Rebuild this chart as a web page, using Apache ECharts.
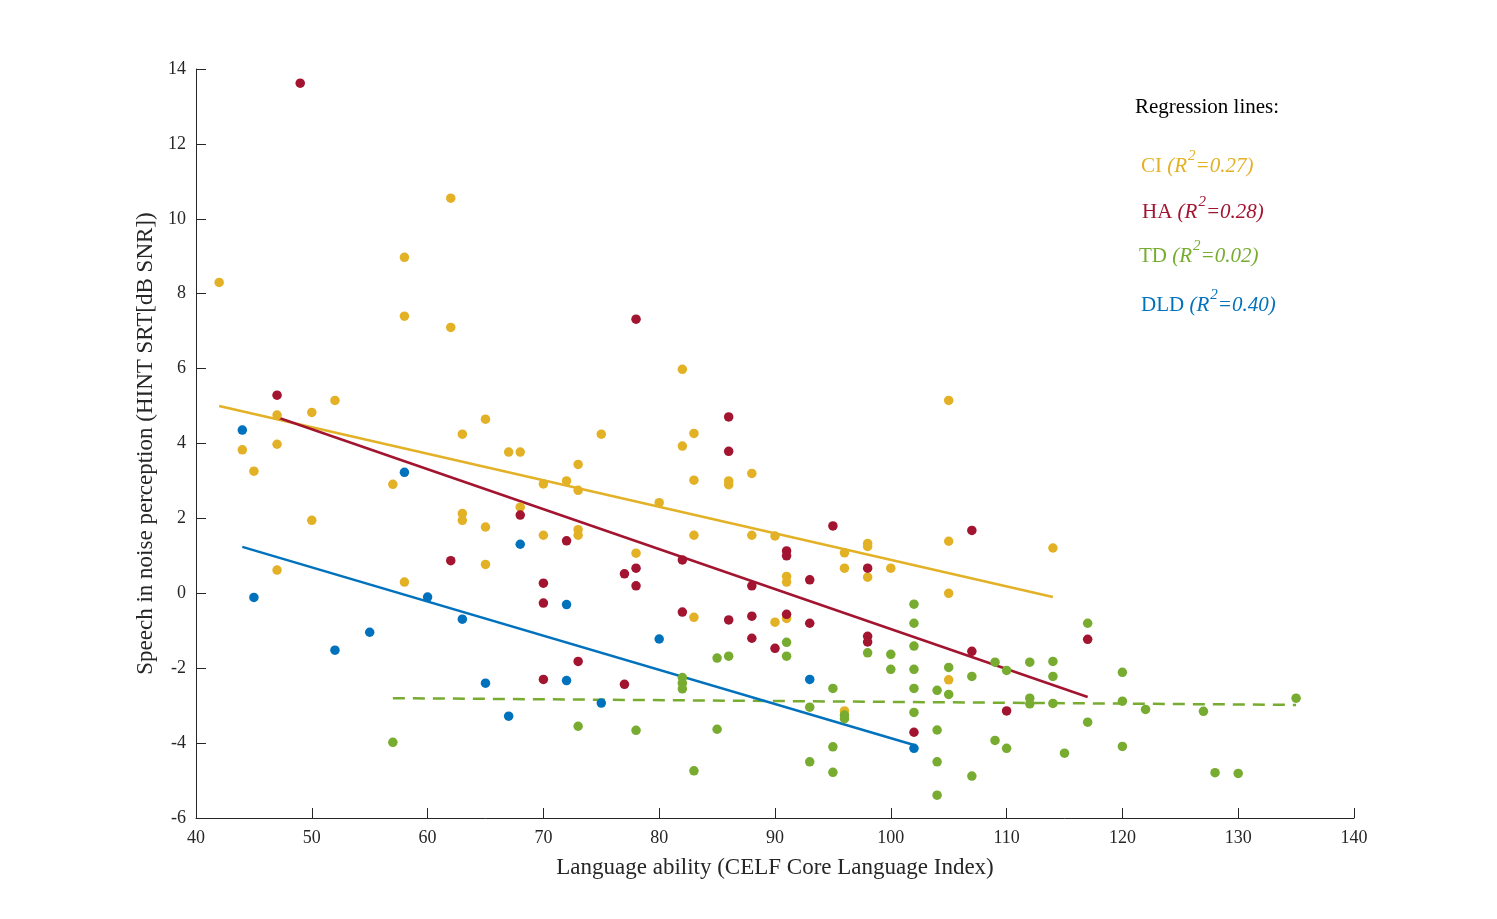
<!DOCTYPE html>
<html>
<head>
<meta charset="utf-8">
<script src="https://cdn.jsdelivr.net/npm/echarts@6/dist/echarts.min.js"></script>
<style>
html,body{margin:0;padding:0;background:#fff;}
#chart{width:1497px;height:919px;}
</style>
</head>
<body>
<div id="chart"></div>
<script>
// ---- Data ----
var ciPoints = [
  [42,8.3],[44,3.83],[45,3.26],[47,4.76],[47,3.98],[47,0.62],[50,4.83],[50,1.95],[52,5.15],
  [57,2.91],[58,8.97],[58,7.4],[58,0.3],[62,10.55],[62,7.1],[63,4.25],[63,2.13],[63,1.95],
  [65,4.65],[65,1.77],[65,0.77],[67,3.77],[68,3.77],[68,2.3],[70,2.92],[70,1.55],[72,3.0],
  [73,3.44],[73,2.75],[73,1.7],[73,1.55],[75,4.25],[78,1.07],[80,2.42],[82,5.98],[82,3.93],
  [83,4.27],[83,3.02],[83,1.55],[83,-0.64],[86,3.0],[86,2.9],[88,3.2],[88,1.55],[90,1.53],
  [90,-0.77],[91,0.45],[91,0.3],[91,-0.67],[96,1.08],[96,0.67],[96,-3.14],[98,1.33],[98,1.25],
  [98,0.43],[100,0.67],[105,5.15],[105,1.39],[105,0.0],[105,-2.31],[114,1.21]
];
var haPoints = [
  [47,5.29],[49,13.62],[62,0.87],[68,2.09],[70,0.27],[70,-0.26],[70,-2.3],[72,1.4],[73,-1.82],
  [77,0.52],[77,-2.43],[78,7.32],[78,0.67],[78,0.2],[82,0.89],[82,-0.5],[86,4.71],[86,3.79],
  [86,-0.71],[88,0.2],[88,-0.61],[88,-1.2],[90,-1.47],[91,1.13],[91,1.0],[91,-0.56],[93,0.36],
  [93,-0.8],[95,1.8],[98,0.67],[98,-1.15],[98,-1.3],[102,-3.71],[107,1.68],[107,-1.55],
  [110,-3.14],[117,-1.23]
];
var tdPoints = [
  [57,-3.98],[73,-3.55],[78,-3.66],[82,-2.25],[82,-2.4],[82,-2.55],[83,-4.74],[85,-1.73],
  [85,-3.63],[86,-1.68],[91,-1.31],[91,-1.68],[93,-3.04],[93,-4.5],[95,-2.54],[95,-4.1],
  [95,-4.78],[96,-3.25],[96,-3.35],[98,-1.59],[100,-1.63],[100,-2.03],[102,-0.29],[102,-0.8],
  [102,-1.41],[102,-2.03],[102,-2.54],[102,-3.18],[104,-2.59],[104,-3.65],[104,-4.5],[104,-5.39],
  [105,-1.98],[105,-2.7],[107,-2.22],[107,-4.88],[109,-1.84],[109,-3.93],[110,-2.06],[110,-4.14],
  [112,-1.84],[112,-2.8],[112,-2.95],[114,-1.82],[114,-2.22],[114,-2.94],[115,-4.27],[117,-0.8],
  [117,-3.44],[120,-2.11],[120,-2.88],[120,-4.09],[122,-3.1],[127,-3.15],[128,-4.79],[130,-4.81],
  [135,-2.8]
];
var dldPoints = [
  [44,4.36],[45,-0.11],[52,-1.52],[55,-1.04],[58,3.23],[60,-0.1],[63,-0.69],[65,-2.4],
  [67,-3.28],[68,1.31],[72,-0.3],[72,-2.33],[75,-2.93],[80,-1.22],[93,-2.3],[102,-4.14]
];
// Regression line endpoints (as drawn in the reference)
var ciLine  = [[42,5.0],[114,-0.1]];
var haLine  = [[47,4.7],[117,-2.77]];
var tdLine  = [[57,-2.8],[135,-2.98]];
var dldLine = [[44,1.24],[102,-4.05]];
// Legend labels
var groupNames = ['CI','HA','TD','DLD'];
var r2Values = ['0.27','0.28','0.02','0.40'];
var xTicks = {min:40, max:140, interval:10};
var yTicks = {min:-6, max:14, interval:2};

// ---- Styles ----
var colors = ['#E3B126','#A2142F','#77AC30','#0072BD'];
var font = '"Liberation Serif","Times New Roman",serif';
var axisColor = '#262626';

var chart = echarts.init(document.getElementById('chart'));

function scatter(name, data, color){
  return {name:name, type:'scatter', data:data, symbol:'circle', symbolSize:9.5,
    itemStyle:{color:color, opacity:1}, z:3, silent:true};
}
function line(name, data, color, dashed){
  return {name:name+' fit', type:'line', data:data, symbol:'none', z:2, silent:true,
    lineStyle:{color:color, width:2.5, type: dashed ? [12,8] : 'solid'}};
}

var legendGraphics = [{
  type:'text', left:1135, top:97,
  style:{text:'Regression lines:', font:'21px '+font, fill:'#000'}
}];
var legendTops = [149,195,239,288];
var legendLefts = [1141,1142,1139,1141];
groupNames.forEach(function(n,i){
  legendGraphics.push({
    type:'text', left:legendLefts[i], top:legendTops[i],
    style:{
      text:'{n|'+n+' }{i|(R}{s|2}{i|=' + r2Values[i] + ')}',
      fill:colors[i],
      rich:{
        n:{fontFamily:font, fontSize:21, fill:colors[i], verticalAlign:'bottom', lineHeight:28},
        i:{fontFamily:font, fontSize:21, fontStyle:'italic', fill:colors[i], verticalAlign:'bottom', lineHeight:28},
        s:{fontFamily:font, fontSize:15, fontStyle:'italic', fill:colors[i], verticalAlign:'top', lineHeight:28, padding:[0,0,14,1]}
      }
    }
  });
});

var option = {
  animation:false,
  backgroundColor:'#fff',
  grid:{left:196, right:143, top:69, bottom:101, containLabel:false},
  xAxis:{
    type:'value', min:xTicks.min, max:xTicks.max, interval:xTicks.interval,
    name:'Language ability (CELF Core Language Index)', nameLocation:'middle', nameGap:38,
    nameTextStyle:{fontFamily:font, fontSize:23, color:axisColor},
    axisLine:{show:true, onZero:false, lineStyle:{color:axisColor, width:1}},
    axisTick:{show:true, inside:true, length:10, lineStyle:{color:axisColor}},
    axisLabel:{fontFamily:font, fontSize:18, color:axisColor, margin:11},
    splitLine:{show:false}
  },
  yAxis:{
    type:'value', min:yTicks.min, max:yTicks.max, interval:yTicks.interval,
    name:'Speech in noise perception (HINT SRT[dB SNR])', nameLocation:'middle', nameGap:36,
    nameTextStyle:{fontFamily:font, fontSize:23, color:axisColor},
    axisLine:{show:true, onZero:false, lineStyle:{color:axisColor, width:1}},
    axisTick:{show:true, inside:true, length:10, lineStyle:{color:axisColor}},
    axisLabel:{fontFamily:font, fontSize:18, color:axisColor, margin:10},
    splitLine:{show:false}
  },
  series:[
    line('CI', ciLine, colors[0], false),
    line('HA', haLine, colors[1], false),
    line('TD', tdLine, colors[2], true),
    line('DLD', dldLine, colors[3], false),
    scatter('CI', ciPoints, colors[0]),
    scatter('HA', haPoints, colors[1]),
    scatter('TD', tdPoints, colors[2]),
    scatter('DLD', dldPoints, colors[3])
  ],
  graphic: legendGraphics
};
chart.setOption(option);
</script>
</body>
</html>
